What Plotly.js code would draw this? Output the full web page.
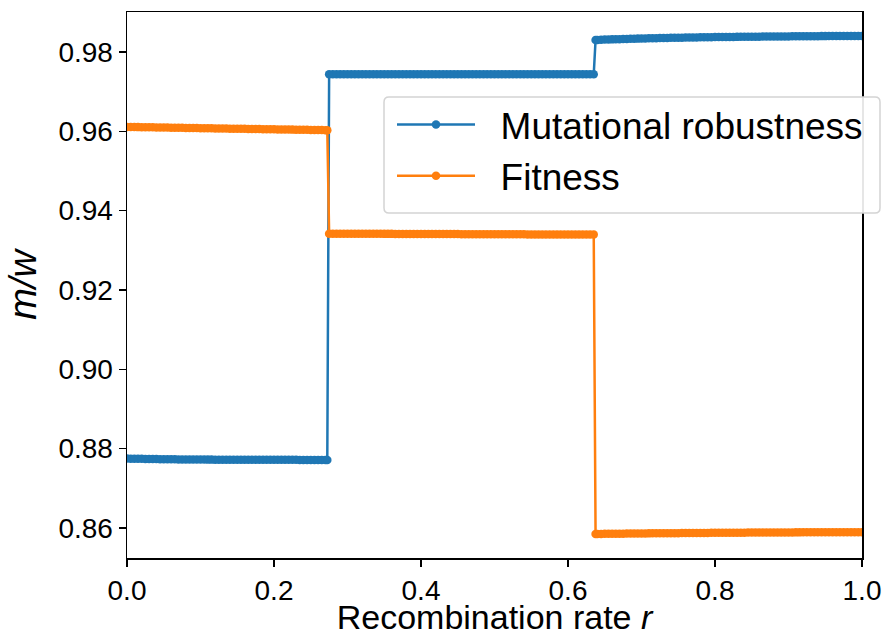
<!DOCTYPE html>
<html>
<head>
<meta charset="utf-8">
<script src="https://cdn.plot.ly/plotly-3.0.1.min.js"></script>
<style>
  html, body { margin: 0; padding: 0; background: #ffffff; }
  #chart { width: 888px; height: 636px; }
</style>
</head>
<body>
<div id="chart"></div>
<script>
// Recombination rate r (sampling grid, with extra samples at the two transitions)
const recombRate = [
  0.000, 0.005, 0.010, 0.015, 0.020, 0.025, 0.030, 0.035, 0.040, 0.045,
  0.050, 0.055, 0.060, 0.065, 0.070, 0.075, 0.080, 0.085, 0.090, 0.095,
  0.100, 0.105, 0.110, 0.115, 0.120, 0.125, 0.130, 0.135, 0.140, 0.145,
  0.150, 0.155, 0.160, 0.165, 0.170, 0.175, 0.180, 0.185, 0.190, 0.195,
  0.200, 0.205, 0.210, 0.215, 0.220, 0.225, 0.230, 0.235, 0.240, 0.245,
  0.250, 0.255, 0.260, 0.265, 0.270, 0.2725,
  0.275, 0.280, 0.285, 0.290, 0.295, 0.300, 0.305, 0.310, 0.315, 0.320,
  0.325, 0.330, 0.335, 0.340, 0.345, 0.350, 0.355, 0.360, 0.365, 0.370,
  0.375, 0.380, 0.385, 0.390, 0.395, 0.400, 0.405, 0.410, 0.415, 0.420,
  0.425, 0.430, 0.435, 0.440, 0.445, 0.450, 0.455, 0.460, 0.465, 0.470,
  0.475, 0.480, 0.485, 0.490, 0.495, 0.500, 0.505, 0.510, 0.515, 0.520,
  0.525, 0.530, 0.535, 0.540, 0.545, 0.550, 0.555, 0.560, 0.565, 0.570,
  0.575, 0.580, 0.585, 0.590, 0.595, 0.600, 0.605, 0.610, 0.615, 0.620,
  0.625, 0.630, 0.635,
  0.6375,
  0.640, 0.645, 0.650, 0.655, 0.660, 0.665, 0.670, 0.675, 0.680, 0.685,
  0.690, 0.695, 0.700, 0.705, 0.710, 0.715, 0.720, 0.725, 0.730, 0.735,
  0.740, 0.745, 0.750, 0.755, 0.760, 0.765, 0.770, 0.775, 0.780, 0.785,
  0.790, 0.795, 0.800, 0.805, 0.810, 0.815, 0.820, 0.825, 0.830, 0.835,
  0.840, 0.845, 0.850, 0.855, 0.860, 0.865, 0.870, 0.875, 0.880, 0.885,
  0.890, 0.895, 0.900, 0.905, 0.910, 0.915, 0.920, 0.925, 0.930, 0.935,
  0.940, 0.945, 0.950, 0.955, 0.960, 0.965, 0.970, 0.975, 0.980, 0.985,
  0.990, 0.995, 1.000
];

// Mutational robustness m
const robustness = [
  0.87750, 0.87749, 0.87748, 0.87746, 0.87744, 0.87742, 0.87740, 0.87738, 0.87737, 0.87735,
  0.87734, 0.87733, 0.87732, 0.87731, 0.87730, 0.87729, 0.87728, 0.87727, 0.87727, 0.87726,
  0.87725, 0.87725, 0.87724, 0.87724, 0.87723, 0.87723, 0.87722, 0.87722, 0.87722, 0.87721,
  0.87721, 0.87721, 0.87720, 0.87720, 0.87720, 0.87720, 0.87719, 0.87719, 0.87719, 0.87719,
  0.87719, 0.87718, 0.87718, 0.87718, 0.87718, 0.87718, 0.87718, 0.87717, 0.87717, 0.87717,
  0.87717, 0.87717, 0.87717, 0.87717, 0.87717, 0.87717,
  0.97441, 0.97441, 0.97440, 0.97440, 0.97440, 0.97440, 0.97440, 0.97440, 0.97440, 0.97440,
  0.97440, 0.97440, 0.97440, 0.97440, 0.97440, 0.97440, 0.97440, 0.97440, 0.97440, 0.97440,
  0.97440, 0.97440, 0.97440, 0.97440, 0.97440, 0.97440, 0.97440, 0.97440, 0.97440, 0.97440,
  0.97440, 0.97440, 0.97440, 0.97440, 0.97440, 0.97440, 0.97440, 0.97440, 0.97440, 0.97440,
  0.97440, 0.97440, 0.97440, 0.97440, 0.97440, 0.97440, 0.97440, 0.97440, 0.97440, 0.97440,
  0.97440, 0.97440, 0.97440, 0.97440, 0.97440, 0.97440, 0.97440, 0.97440, 0.97440, 0.97440,
  0.97440, 0.97440, 0.97440, 0.97440, 0.97440, 0.97440, 0.97440, 0.97440, 0.97440, 0.97440,
  0.97440, 0.97440, 0.97440,
  0.98300,
  0.98304, 0.98308, 0.98312, 0.98315, 0.98318, 0.98321, 0.98324, 0.98327, 0.98330, 0.98332,
  0.98335, 0.98337, 0.98340, 0.98342, 0.98344, 0.98346, 0.98348, 0.98350, 0.98352, 0.98354,
  0.98356, 0.98358, 0.98360, 0.98361, 0.98363, 0.98364, 0.98366, 0.98367, 0.98369, 0.98370,
  0.98372, 0.98373, 0.98375, 0.98376, 0.98377, 0.98378, 0.98379, 0.98380, 0.98381, 0.98382,
  0.98383, 0.98384, 0.98385, 0.98386, 0.98387, 0.98388, 0.98389, 0.98389, 0.98390, 0.98391,
  0.98392, 0.98392, 0.98393, 0.98394, 0.98395, 0.98395, 0.98396, 0.98397, 0.98398, 0.98398,
  0.98399, 0.98400, 0.98400, 0.98401, 0.98402, 0.98402, 0.98403, 0.98404, 0.98404, 0.98405,
  0.98405, 0.98406, 0.98406
];

// Fitness w
const fitness = [
  0.96110, 0.96109, 0.96107, 0.96106, 0.96104, 0.96103, 0.96101, 0.96100, 0.96098, 0.96097,
  0.96095, 0.96094, 0.96092, 0.96091, 0.96089, 0.96088, 0.96086, 0.96085, 0.96083, 0.96082,
  0.96080, 0.96079, 0.96077, 0.96076, 0.96074, 0.96073, 0.96071, 0.96070, 0.96068, 0.96067,
  0.96065, 0.96064, 0.96062, 0.96061, 0.96059, 0.96058, 0.96056, 0.96055, 0.96053, 0.96052,
  0.96050, 0.96049, 0.96047, 0.96046, 0.96044, 0.96043, 0.96041, 0.96040, 0.96038, 0.96037,
  0.96035, 0.96034, 0.96032, 0.96031, 0.96029, 0.96028,
  0.93420, 0.93420, 0.93420, 0.93419, 0.93419, 0.93419, 0.93418, 0.93418, 0.93418, 0.93417,
  0.93417, 0.93417, 0.93416, 0.93416, 0.93416, 0.93415, 0.93415, 0.93415, 0.93414, 0.93414,
  0.93414, 0.93413, 0.93413, 0.93413, 0.93412, 0.93412, 0.93412, 0.93411, 0.93411, 0.93411,
  0.93410, 0.93410, 0.93410, 0.93409, 0.93409, 0.93409, 0.93408, 0.93408, 0.93408, 0.93407,
  0.93407, 0.93407, 0.93406, 0.93406, 0.93406, 0.93405, 0.93405, 0.93405, 0.93404, 0.93404,
  0.93404, 0.93403, 0.93403, 0.93403, 0.93402, 0.93402, 0.93402, 0.93401, 0.93401, 0.93401,
  0.93400, 0.93400, 0.93400, 0.93400, 0.93400, 0.93400, 0.93400, 0.93400, 0.93400, 0.93400,
  0.93400, 0.93400, 0.93400,
  0.85850,
  0.85850, 0.85851, 0.85853, 0.85854, 0.85855, 0.85856, 0.85857, 0.85858, 0.85859, 0.85860,
  0.85861, 0.85862, 0.85863, 0.85864, 0.85865, 0.85866, 0.85867, 0.85867, 0.85868, 0.85869,
  0.85870, 0.85871, 0.85871, 0.85872, 0.85873, 0.85874, 0.85874, 0.85875, 0.85876, 0.85876,
  0.85877, 0.85878, 0.85878, 0.85879, 0.85880, 0.85880, 0.85881, 0.85881, 0.85882, 0.85883,
  0.85883, 0.85884, 0.85884, 0.85885, 0.85885, 0.85886, 0.85886, 0.85887, 0.85887, 0.85888,
  0.85888, 0.85889, 0.85889, 0.85889, 0.85890, 0.85890, 0.85891, 0.85891, 0.85891, 0.85892,
  0.85892, 0.85892, 0.85893, 0.85893, 0.85893, 0.85894, 0.85894, 0.85894, 0.85895, 0.85895,
  0.85895, 0.85896, 0.85896
];

const seriesNames = ['Mutational robustness', 'Fitness'];
const seriesColors = ['#1f77b4', '#ff7f0e'];
const xTickVals = [0, 0.2, 0.4, 0.6, 0.8, 1.0];
const xTickText = ['0.0', '0.2', '0.4', '0.6', '0.8', '1.0'];
const yTickVals = [0.86, 0.88, 0.90, 0.92, 0.94, 0.96, 0.98];
const yTickText = ['0.86', '0.88', '0.90', '0.92', '0.94', '0.96', '0.98'];

const FONT = 'Arial, "Liberation Sans", sans-serif';
const NBSP = '\u00a0\u00a0';

function lineTrace(y, i) {
  return {
    x: recombRate,
    y: y,
    type: 'scatter',
    mode: 'lines+markers',
    name: NBSP + seriesNames[i],
    legendgroup: 'g' + i,
    line: { color: seriesColors[i], width: 2.5 },
    marker: { color: seriesColors[i], size: 8.5 }
  };
}

const data = [lineTrace(robustness, 0), lineTrace(fitness, 1)];

const axisCommon = {
  showline: true,
  mirror: true,
  linecolor: '#000000',
  linewidth: 1.5,
  ticks: 'outside',
  ticklen: 7,
  tickwidth: 1.5,
  tickcolor: '#000000',
  showgrid: false,
  zeroline: false,
  tickfont: { family: FONT, size: 28, color: '#000000' }
};

// Rounded legend frame (paper coordinates), drawn over the right spine
const plotW = 735, plotH = 546, plotL = 127, plotB = 558;
function px(x) { return (x - plotL) / plotW; }
function py(y) { return (plotB - y) / plotH; }
const bx0 = px(384), bx1 = px(880), by0 = py(213), by1 = py(97);
const rx = 5 / plotW, ry = 5 / plotH;
const framePath =
  'M' + (bx0 + rx) + ',' + by1 +
  ' L' + (bx1 - rx) + ',' + by1 +
  ' Q' + bx1 + ',' + by1 + ' ' + bx1 + ',' + (by1 - ry) +
  ' L' + bx1 + ',' + (by0 + ry) +
  ' Q' + bx1 + ',' + by0 + ' ' + (bx1 - rx) + ',' + by0 +
  ' L' + (bx0 + rx) + ',' + by0 +
  ' Q' + bx0 + ',' + by0 + ' ' + bx0 + ',' + (by0 + ry) +
  ' L' + bx0 + ',' + (by1 - ry) +
  ' Q' + bx0 + ',' + by1 + ' ' + (bx0 + rx) + ',' + by1 + ' Z';

const layout = {
  width: 888,
  height: 636,
  margin: { l: 127, r: 26, t: 12, b: 78, pad: 0 },
  paper_bgcolor: '#ffffff',
  plot_bgcolor: '#ffffff',
  showlegend: true,
  xaxis: Object.assign({}, axisCommon, {
    range: [0, 1],
    tickmode: 'array',
    tickvals: xTickVals,
    ticktext: xTickText,
    title: { text: 'Recombination rate <i>r</i>', font: { family: FONT, size: 34, color: '#000000' }, standoff: 13 }
  }),
  yaxis: Object.assign({}, axisCommon, {
    range: [0.85244, 0.99008],
    tickmode: 'array',
    tickvals: yTickVals,
    ticktext: yTickText,
    title: { text: '<i>m/w</i>', font: { family: FONT, size: 38, color: '#000000' }, standoff: 10 }
  }),
  shapes: [{
    type: 'path',
    xref: 'paper',
    yref: 'paper',
    path: framePath,
    fillcolor: 'rgba(255,255,255,0.9)',
    line: { color: '#d4d4d4', width: 1.5 },
    layer: 'above'
  }],
  legend: {
    x: px(392),
    xanchor: 'left',
    y: py(94),
    yanchor: 'top',
    bgcolor: 'rgba(0,0,0,0)',
    borderwidth: 0,
    font: { family: FONT, size: 37, color: '#000000' },
    itemwidth: 78,
    tracegroupgap: 0
  }
};

Plotly.newPlot('chart', data, layout, { displayModeBar: false, staticPlot: true });
</script>
</body>
</html>
